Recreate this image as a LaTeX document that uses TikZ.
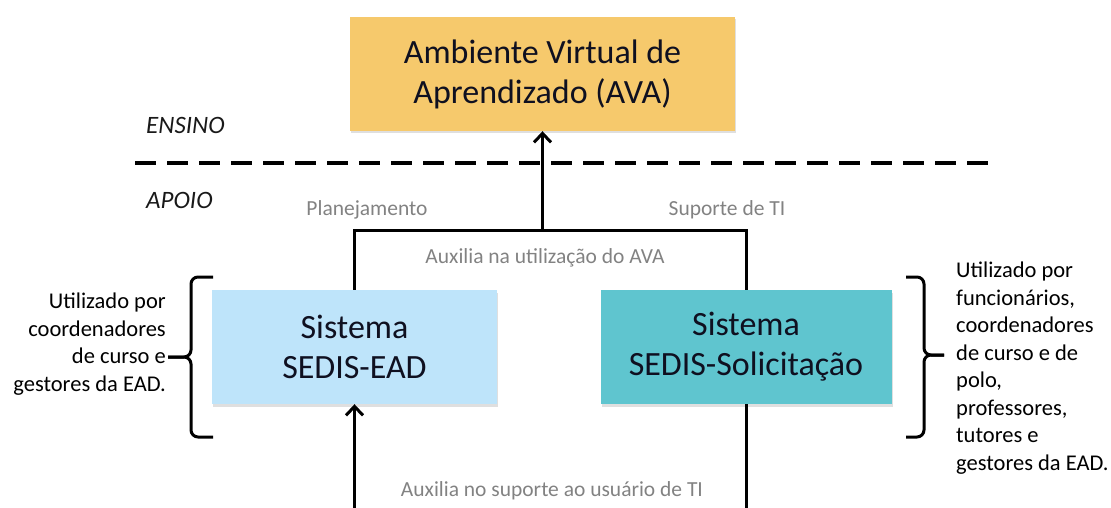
\documentclass[tikz,border=0pt]{standalone}
\usepackage{fontspec}
\setmainfont{Carlito}
\usetikzlibrary{positioning,arrows.meta,shadows}

\definecolor{avaorange}{RGB}{246,201,108}
\definecolor{eadblue}{RGB}{190,228,250}
\definecolor{solteal}{RGB}{95,197,207}
\definecolor{notegray}{RGB}{130,130,130}
\definecolor{boxtext}{RGB}{15,16,32}

\begin{document}
\begin{tikzpicture}[x=1pt,y=-1pt,
        sysbox/.style={rectangle,draw=none,minimum width=#1,minimum height=114pt,align=center,
            text=boxtext,font=\fontsize{34}{40}\selectfont,
            drop shadow={shadow xshift=1pt,shadow yshift=-2.5pt,opacity=.25}},
        layer/.style={anchor=west,inner sep=0pt,text=black!90,font=\fontsize{25}{28}\selectfont\itshape},
        note/.style={inner sep=1pt,text=notegray,font=\fontsize{21.5}{26}\selectfont},
        usertext/.style={inner sep=0pt,text=black,font=\fontsize{22.5}{27.5}\selectfont},
        link/.style={line width=3pt},
        arrow/.style={link,-{Straight Barb[length=9pt,width=17pt]}},
        divider/.style={line width=3pt,dash pattern=on 21pt off 11pt},
        brace/.style={line width=3pt,rounded corners=7pt}
    ]
    \useasboundingbox (0,0) rectangle (1111,508);

    %--- boxes ---
    \node[sysbox=385pt,fill=avaorange] (ava) at (542.5,74) {Ambiente Virtual de\\Aprendizado (AVA)};
    \node[sysbox=285pt,fill=eadblue]   (ead) at (354.5,347) {Sistema\\SEDIS-EAD};
    \node[sysbox=291pt,fill=solteal]   (sol) at (746,347) {Sistema\\SEDIS-Solicitação};

    %--- layers ---
    \node[layer] (ensino) at (146,125) {ENSINO};
    \node[layer] (apoio)  at (146,200) {APOIO};
    \coordinate (divl) at (135,163);
    \coordinate (divr) at (990,163);
    \draw[divider] (divl) -- (divr);

    %--- connectors ---
    \coordinate (split)  at (ava.south |- 0,230);
    \coordinate (eadin)  at (ead.south |- 0,510);
    \coordinate (solout) at (sol.south |- 0,510);
    \draw[link]  (ead.north) |- (split) -| (sol.north);
    \draw[arrow] (split) -- (ava.south);
    \draw[arrow] (eadin) -- (ead.south);
    \draw[link]  (sol.south) -- (solout);

    %--- labels ---
    \node[note] (plan)    at (367,210) {Planejamento};
    \node[note] (supti)   at (727,210) {Suporte de TI};
    \node[note] (usoava)  at (545,258) {Auxilia na utilização do AVA};
    \node[note] (supuser) at (552,491) {Auxilia no suporte ao usuário de TI};

    %--- users ---
    \draw[brace] (213,277) -| (191,357) -- (168,357);
    \draw[brace] (168,357) -- (191,357) |- (213,437);
    \draw[brace] (906,277) -| (924,355) -- (944,355);
    \draw[brace] (944,355) -- (924,355) |- (906,437);
    \node[usertext,anchor=east,align=right] (eadusers) at (166,344)
        {Utilizado por\\coordenadores\\de curso e\\gestores da EAD.};
    \node[usertext,anchor=west,align=left] (solusers) at (956,368)
        {Utilizado por\\funcionários,\\coordenadores\\de curso e de\\polo,\\professores,\\tutores e\\gestores da EAD.};
\end{tikzpicture}
\end{document}
